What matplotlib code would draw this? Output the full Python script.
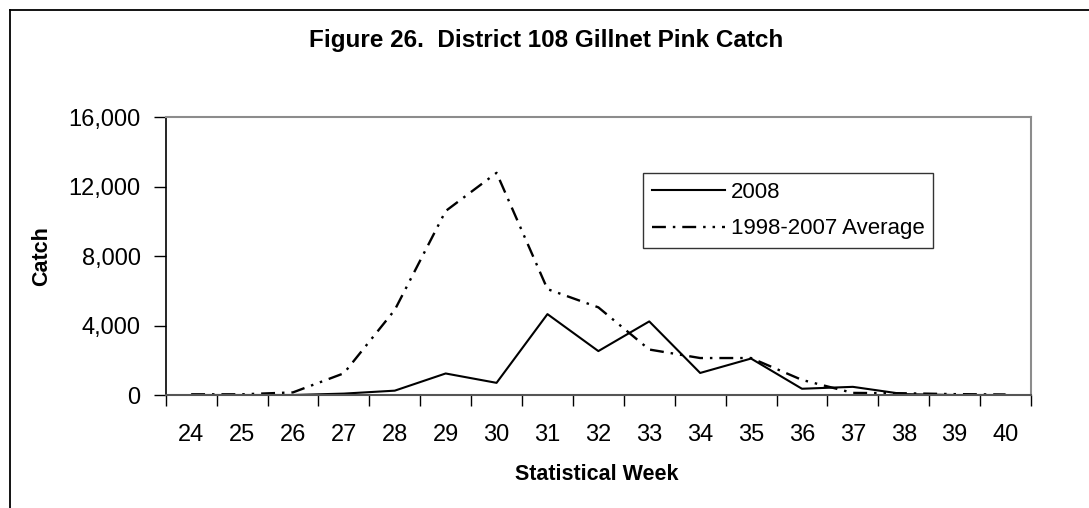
import matplotlib
matplotlib.use("Agg")
import matplotlib.pyplot as plt
from matplotlib.lines import Line2D
from matplotlib.ticker import FuncFormatter, FixedLocator

plt.rcParams['font.family'] = ['Liberation Sans', 'DejaVu Sans']
plt.rcParams['lines.scale_dashes'] = False

# data
weeks = [24, 25, 26, 27, 28, 29, 30, 31, 32, 33, 34, 35, 36, 37, 38, 39, 40]
catch_2008 = [0, 0, 0, 80, 250, 1240, 700, 4660, 2530, 4240, 1270, 2100, 360, 470, 50, 0, 0]
catch_avg = [40, 40, 150, 1250, 4900, 10600, 12800, 6100, 5050, 2620, 2130, 2130, 870, 120, 100, 50, 30]
yticks = [0, 4000, 8000, 12000, 16000]

W, H = 1089, 508
fig = plt.figure(figsize=(W / 100, H / 100), dpi=100)
ax = fig.add_axes([165.7 / W, 1 - 395 / H, (1031 - 165.7) / W, (395 - 117.3) / H])

x = list(range(len(weeks)))
ax.plot(x, catch_2008, color='black', lw=1.5, label='2008')
ax.plot(x, catch_avg, color='black', lw=1.7,
        linestyle=(0, (10, 5, 1.8, 5, 10, 5, 1.8, 5, 1.8, 5)),
        label='1998-2007 Average')

ax.set_xlim(-0.5, len(weeks) - 0.5)
ax.set_ylim(0, 16000)
ax.set_xticks(x)
ax.set_xticklabels([str(w) for w in weeks])
ax.xaxis.set_minor_locator(FixedLocator([i - 0.5 for i in range(len(weeks) + 1)]))
ax.tick_params(axis='x', which='major', length=0, pad=21, labelsize=17)
ax.tick_params(axis='x', which='minor', length=8, width=1, direction='out')
ax.set_yticks(yticks)
ax.yaxis.set_major_formatter(FuncFormatter(lambda v, p: f"{int(v):,}"))
ax.tick_params(axis='y', length=9, width=1, pad=9, labelsize=17)

for s in ['top', 'right']:
    ax.spines[s].set_color('#8c8c8c')
    ax.spines[s].set_linewidth(1.5)
ax.spines['left'].set_color('black')
ax.spines['bottom'].set_color('#555555')
ax.spines['left'].set_linewidth(1.2)
ax.spines['bottom'].set_linewidth(1.5)

fig.text(546 / W, 1 - 40 / H, 'Figure 26.  District 108 Gillnet Pink Catch',
         ha='center', va='center', fontsize=17.5, fontweight='bold')
fig.text(597 / W, 1 - 475 / H, 'Statistical Week', ha='center', va='center',
         fontsize=15.5, fontweight='bold')
fig.text(42 / W, 1 - 256 / H, 'Catch', ha='center', va='center', rotation=90,
         fontsize=15.5, fontweight='bold')

leg = ax.legend(loc='upper left', bbox_to_anchor=(643 / W, 1 - 173 / H),
                bbox_transform=fig.transFigure, fontsize=16, frameon=True,
                fancybox=False, edgecolor='black', handlelength=3.3,
                handletextpad=0.25, labelspacing=0.7, borderpad=0.4,
                borderaxespad=0)
leg.get_frame().set_linewidth(1.0)

# outer chart border (cut off at right and bottom)
fig.add_artist(Line2D([9.5 / W, 9.5 / W], [0, 1 - 9.5 / H], color='black', lw=1.3,
                      transform=fig.transFigure))
fig.add_artist(Line2D([9.5 / W, 1], [1 - 9.5 / H, 1 - 9.5 / H], color='black', lw=1.3,
                      transform=fig.transFigure))

fig.savefig('out.png', dpi=100)
